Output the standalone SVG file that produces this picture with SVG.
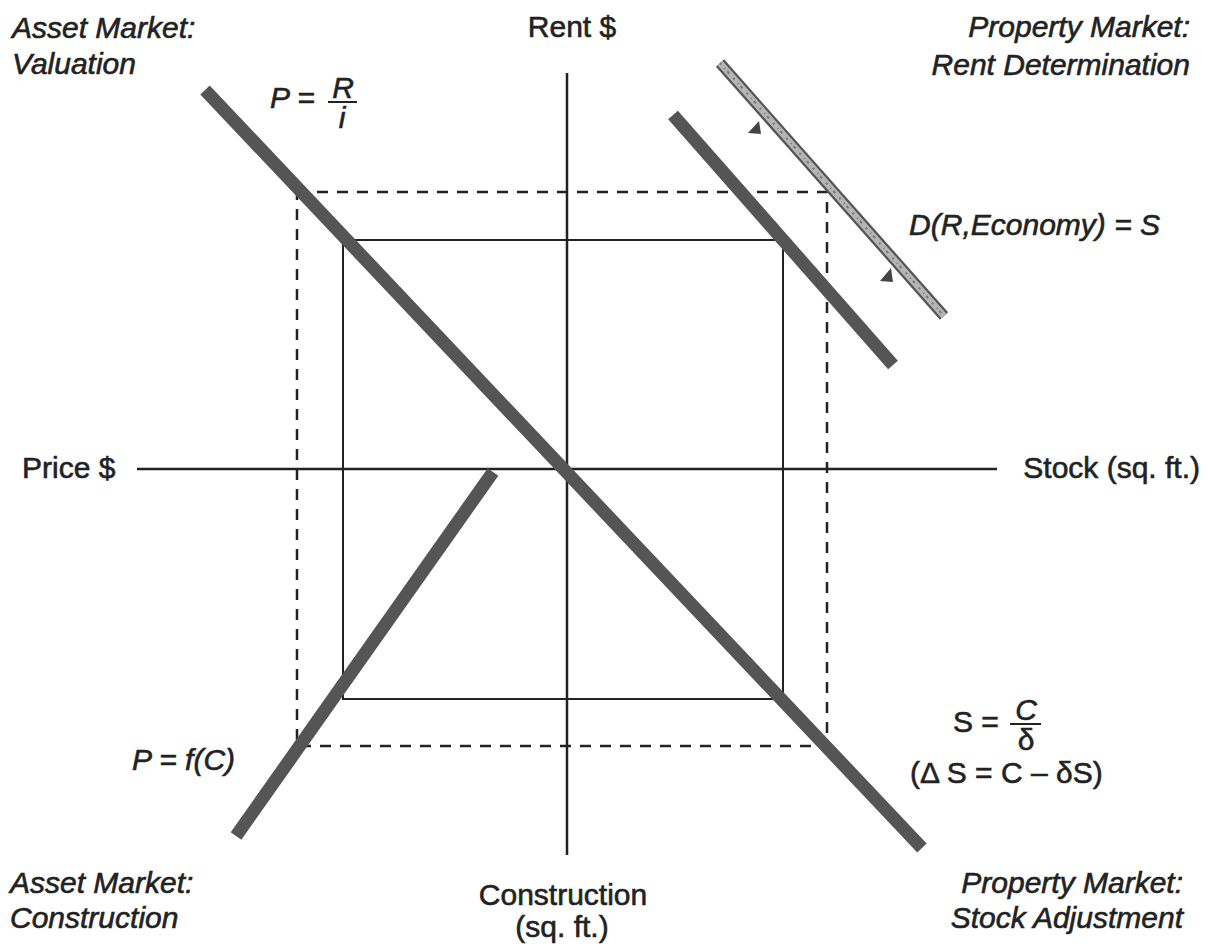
<svg xmlns="http://www.w3.org/2000/svg" width="1210" height="949" viewBox="0 0 1210 949">
<style>
text{font-family:"Liberation Sans",Arial,sans-serif;font-size:30px;fill:#222;stroke:#222;stroke-width:0.6}
.it{font-style:italic}
.thick{stroke:#555;stroke-width:13;stroke-linecap:butt;fill:none}
.axis{stroke:#222;stroke-width:2.5;fill:none}
.box{stroke:#222;stroke-width:2;fill:none}
.dash{stroke:#222;stroke-width:2.5;fill:none;stroke-dasharray:11 9}
</style>
<rect width="1210" height="949" fill="#fff"/>
<g id="connectors">
<line class="axis" x1="567" y1="73" x2="567" y2="855"/>
<line class="axis" x1="137" y1="469" x2="997" y2="469"/>
<rect class="box" x="343" y="240" width="440" height="459"/>
<rect class="dash" x="297" y="192" width="530" height="554"/>
</g>
<g id="valuation-line"><line class="thick" x1="205" y1="90" x2="922" y2="848"/></g>
<g id="construction-line"><line class="thick" x1="493" y1="472" x2="236" y2="836"/></g>
<g id="demand-line"><line class="thick" x1="673" y1="115" x2="893" y2="365"/></g>
<g id="shifted-demand">
<line x1="720" y1="63" x2="944" y2="316" stroke="#555" stroke-width="11"/>
<line x1="720" y1="63" x2="944" y2="316" stroke="#b5b5b5" stroke-width="6.5"/>
<line x1="720" y1="63" x2="944" y2="316" stroke="#7a7a7a" stroke-width="2" stroke-dasharray="2 5 1 3 3 6"/>
<polygon points="759,121 748,133 761,134" fill="#444"/>
<polygon points="891,268 880,281 893,282" fill="#444"/>
</g>
<g id="labels">
<text class="it" x="12" y="38">Asset Market:</text>
<text class="it" x="12" y="74">Valuation</text>
<text x="572" y="37" text-anchor="middle">Rent $</text>
<text class="it" x="1190" y="37" text-anchor="end">Property Market:</text>
<text class="it" x="1190" y="75" text-anchor="end">Rent Determination</text>
<text x="22" y="478">Price $</text>
<text x="1200" y="478" text-anchor="end">Stock (sq. ft.)</text>
<text class="it" x="1160" y="235" text-anchor="end">D(R,Economy) = S</text>
<text class="it" x="10" y="893">Asset Market:</text>
<text class="it" x="10" y="928">Construction</text>
<text x="563" y="905" text-anchor="middle">Construction</text>
<text x="562" y="937" text-anchor="middle">(sq. ft.)</text>
<text class="it" x="1183" y="893" text-anchor="end">Property Market:</text>
<text class="it" x="1183" y="928" text-anchor="end">Stock Adjustment</text>
<text class="it" x="132" y="770">P = f(C)</text>
</g>
<g id="formula-pri">
<text class="it" x="270" y="108">P =</text>
<text class="it" x="343" y="98" text-anchor="middle" font-size="24">R</text>
<line x1="328" y1="102" x2="357" y2="102" stroke="#222" stroke-width="2"/>
<text class="it" x="342" y="128" text-anchor="middle" font-size="24">i</text>
</g>
<g id="formula-s">
<text x="953" y="732">S =</text>
<text class="it" x="1026" y="720" text-anchor="middle" font-size="24">C</text>
<line x1="1010" y1="724" x2="1041" y2="724" stroke="#222" stroke-width="2"/>
<text x="1026" y="750" text-anchor="middle" font-size="24">δ</text>
<text x="910" y="783">(Δ S = C – δS)</text>
</g>
</svg>
